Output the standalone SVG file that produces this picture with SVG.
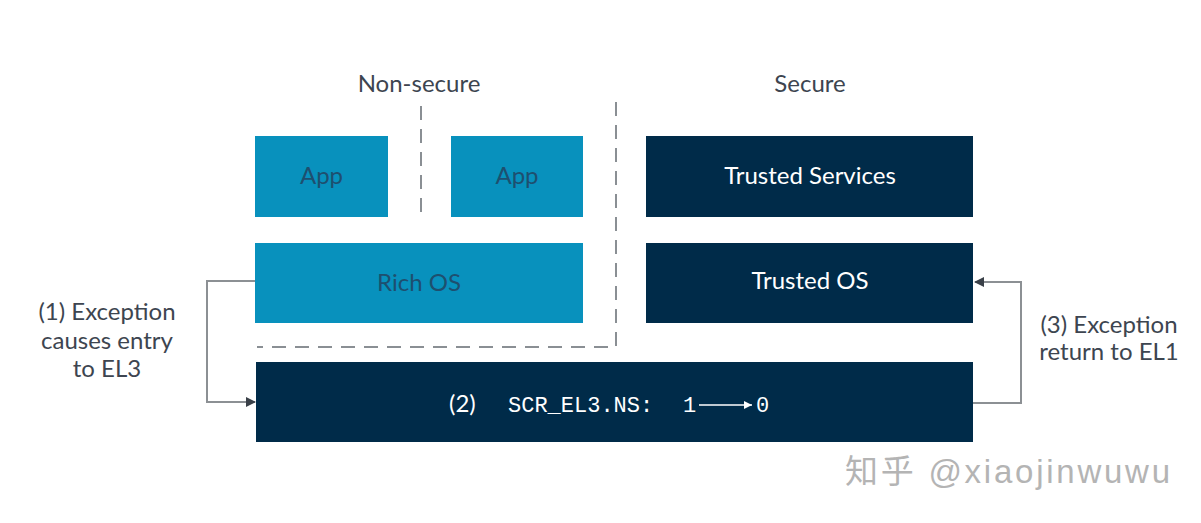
<svg xmlns="http://www.w3.org/2000/svg" width="1201" height="523" viewBox="0 0 1201 523">
<style>
.ns{fill:#0891bd}
.sec{fill:#002b49}
.lbl{font-family:Lato,"Liberation Sans",sans-serif;font-size:24px;fill:#3d4550;text-anchor:middle}
.tns{font-family:Lato,"Liberation Sans",sans-serif;font-size:24px;fill:#1e4f6f;text-anchor:middle}
.ts{font-family:Lato,"Liberation Sans",sans-serif;font-size:24px;fill:#ffffff;text-anchor:middle}
.mono{font-family:"Liberation Mono",monospace;font-size:22px;fill:#ffffff}
.dash{fill:none;stroke:#8a8f94;stroke-width:2;stroke-dasharray:14 9}
.conn{fill:none;stroke:#8c9094;stroke-width:2}
</style>
<defs>
<marker id="ah" markerWidth="10" markerHeight="10" refX="9" refY="5" orient="auto" markerUnits="userSpaceOnUse" viewBox="0 0 10 10">
<path d="M0,0 L10,5 L0,10 z" fill="#3a4048"/>
</marker>
<marker id="wh" markerWidth="8" markerHeight="8" refX="8" refY="4" orient="auto" markerUnits="userSpaceOnUse" viewBox="0 0 8 8">
<path d="M0,0 L8,4 L0,8 z" fill="#ffffff"/>
</marker>
</defs>
<rect width="1201" height="523" fill="#ffffff"/>
<text class="lbl" x="419" y="92">Non-secure</text>
<text class="lbl" x="810" y="92">Secure</text>
<g id="boundaries">
<line class="dash" x1="421" y1="106" x2="421" y2="218" stroke-width="1.5"/>
<path class="dash" d="M616,102 V347 H257"/>
</g>
<g id="app1"><rect class="ns" x="255" y="136" width="133" height="81"/><text class="tns" x="321.5" y="184">App</text></g>
<g id="app2"><rect class="ns" x="451" y="136" width="132" height="81"/><text class="tns" x="517" y="184">App</text></g>
<g id="richos"><rect class="ns" x="255" y="243" width="328" height="80"/><text class="tns" x="419" y="291">Rich OS</text></g>
<g id="trustedservices"><rect class="sec" x="646" y="136" width="327" height="81"/><text class="ts" x="810" y="184">Trusted Services</text></g>
<g id="trustedos"><rect class="sec" x="646" y="243" width="327" height="80"/><text class="ts" x="810" y="289">Trusted OS</text></g>
<g id="el3">
<rect class="sec" x="256" y="362" width="717" height="80"/>
<text x="449" y="412" font-family="Lato,'Liberation Sans',sans-serif" font-size="24" fill="#ffffff">(2)</text>
<text class="mono" x="508" y="412">SCR_EL3.NS:</text>
<text class="mono" x="683" y="412">1</text>
<line x1="699" y1="405" x2="752" y2="405" stroke="#ffffff" stroke-width="1.5" marker-end="url(#wh)"/>
<text class="mono" x="756" y="412">0</text>
</g>
<g id="connectors">
<path class="conn" d="M255,281 H207 V402 H255" marker-end="url(#ah)"/>
<path class="conn" d="M973,403 H1021 V282 H975" marker-end="url(#ah)"/>
</g>
<g id="label1">
<text class="lbl" x="107" y="320">(1) Exception</text>
<text class="lbl" x="107" y="349">causes entry</text>
<text class="lbl" x="107" y="377">to EL3</text>
</g>
<g id="label3">
<text class="lbl" x="1109" y="333">(3) Exception</text>
<text class="lbl" x="1109" y="360">return to EL1</text>
</g>
<text x="845" y="483" font-family="'Liberation Sans','Noto Sans CJK SC',sans-serif" font-size="33" fill="#b4b4b4" textLength="325" lengthAdjust="spacing">知乎 @xiaojinwuwu</text>
</svg>
